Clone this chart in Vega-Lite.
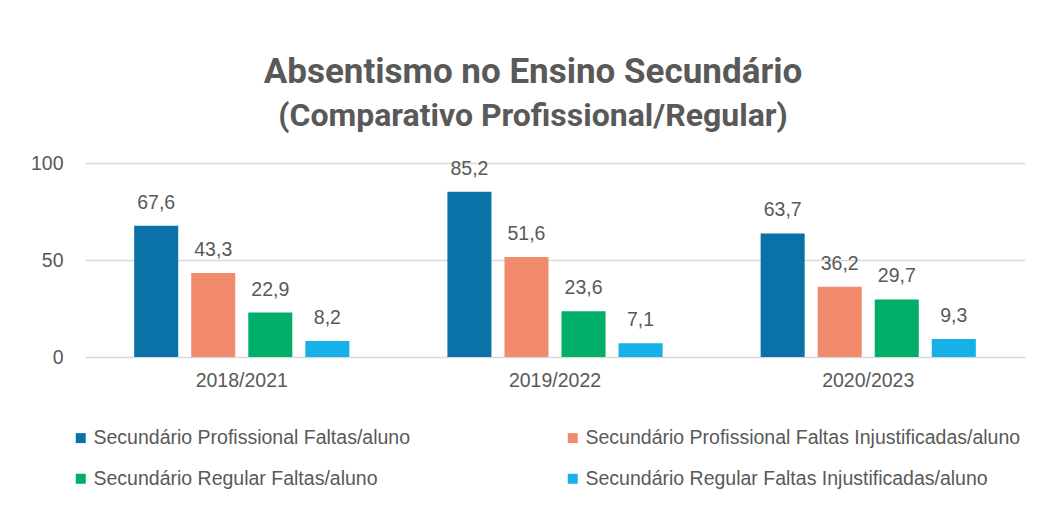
{
  "$schema": "https://vega.github.io/schema/vega-lite/v6.json",
  "autosize": {"type": "none"},
  "width": 940,
  "height": 194,
  "padding": {"left": 85, "top": 163, "right": 21, "bottom": 168},
  "background": "white",
  "config": {
    "locale": {"number": {"decimal": ",", "thousands": ".", "grouping": [3], "currency": ["", " €"]}},
    "view": {"stroke": null},
    "font": "Liberation Sans"
  },
  "title": {
    "text": "Absentismo no Ensino Secundário",
    "subtitle": "(Comparativo Profissional/Regular)",
    "anchor": "middle",
    "dx": -22,
    "font": "Roboto",
    "fontSize": 35,
    "fontWeight": "bold",
    "color": "#595959",
    "subtitleFont": "Roboto",
    "subtitleFontSize": 32,
    "subtitleFontWeight": "bold",
    "subtitleColor": "#595959",
    "subtitlePadding": 11,
    "offset": 21
  },
  "data": {
    "values": [
      {"periodo": "2018/2021", "serie": "Secundário Profissional Faltas/aluno", "valor": 67.6},
      {"periodo": "2018/2021", "serie": "Secundário Profissional Faltas Injustificadas/aluno", "valor": 43.3},
      {"periodo": "2018/2021", "serie": "Secundário Regular Faltas/aluno", "valor": 22.9},
      {"periodo": "2018/2021", "serie": "Secundário Regular Faltas Injustificadas/aluno", "valor": 8.2},
      {"periodo": "2019/2022", "serie": "Secundário Profissional Faltas/aluno", "valor": 85.2},
      {"periodo": "2019/2022", "serie": "Secundário Profissional Faltas Injustificadas/aluno", "valor": 51.6},
      {"periodo": "2019/2022", "serie": "Secundário Regular Faltas/aluno", "valor": 23.6},
      {"periodo": "2019/2022", "serie": "Secundário Regular Faltas Injustificadas/aluno", "valor": 7.1},
      {"periodo": "2020/2023", "serie": "Secundário Profissional Faltas/aluno", "valor": 63.7},
      {"periodo": "2020/2023", "serie": "Secundário Profissional Faltas Injustificadas/aluno", "valor": 36.2},
      {"periodo": "2020/2023", "serie": "Secundário Regular Faltas/aluno", "valor": 29.7},
      {"periodo": "2020/2023", "serie": "Secundário Regular Faltas Injustificadas/aluno", "valor": 9.3}
    ]
  },
  "encoding": {
    "x": {
      "field": "periodo", "type": "nominal",
      "scale": {"paddingInner": 0.313, "paddingOuter": 0.157},
      "axis": {"title": null, "labelAngle": 0, "domain": false, "ticks": false, "labelFontSize": 19.5, "labelColor": "#595959", "labelPadding": 14, "labelFont": "Liberation Sans"}
    },
    "xOffset": {
      "field": "serie", "type": "nominal",
      "sort": ["Secundário Profissional Faltas/aluno", "Secundário Profissional Faltas Injustificadas/aluno", "Secundário Regular Faltas/aluno", "Secundário Regular Faltas Injustificadas/aluno"],
      "scale": {"paddingInner": 0.228, "paddingOuter": 0}
    },
    "y": {
      "field": "valor", "type": "quantitative",
      "scale": {"domain": [0, 100], "nice": false},
      "axis": {"title": null, "values": [0, 50, 100], "domain": false, "ticks": false, "gridColor": "#D9D9D9", "gridWidth": 1.5, "labelFontSize": 19.5, "labelColor": "#595959", "labelPadding": 22, "labelFont": "Liberation Sans"}
    }
  },
  "layer": [
    {
      "mark": {"type": "bar"},
      "encoding": {
        "color": {
          "field": "serie", "type": "nominal",
          "sort": ["Secundário Profissional Faltas/aluno", "Secundário Profissional Faltas Injustificadas/aluno", "Secundário Regular Faltas/aluno", "Secundário Regular Faltas Injustificadas/aluno"],
          "scale": {"range": ["#0A72A6", "#F28B6D", "#00AE6A", "#16B1E8"]},
          "legend": {
            "title": null, "orient": "none", "legendX": -14, "legendY": 265,
            "columns": 2, "direction": "horizontal",
            "symbolType": "square", "symbolSize": 100, "symbolStrokeWidth": 0,
            "labelFontSize": 19.5, "labelColor": "#595959", "labelLimit": 600, "labelOffset": 3,
            "rowPadding": 20, "columnPadding": 152
          }
        }
      }
    },
    {
      "mark": {"type": "text", "baseline": "alphabetic", "dy": -17, "fontSize": 19.5, "color": "#595959", "font": "Liberation Sans"},
      "encoding": {
        "text": {"field": "valor", "type": "quantitative", "format": ".1f"}
      }
    }
  ]
}
